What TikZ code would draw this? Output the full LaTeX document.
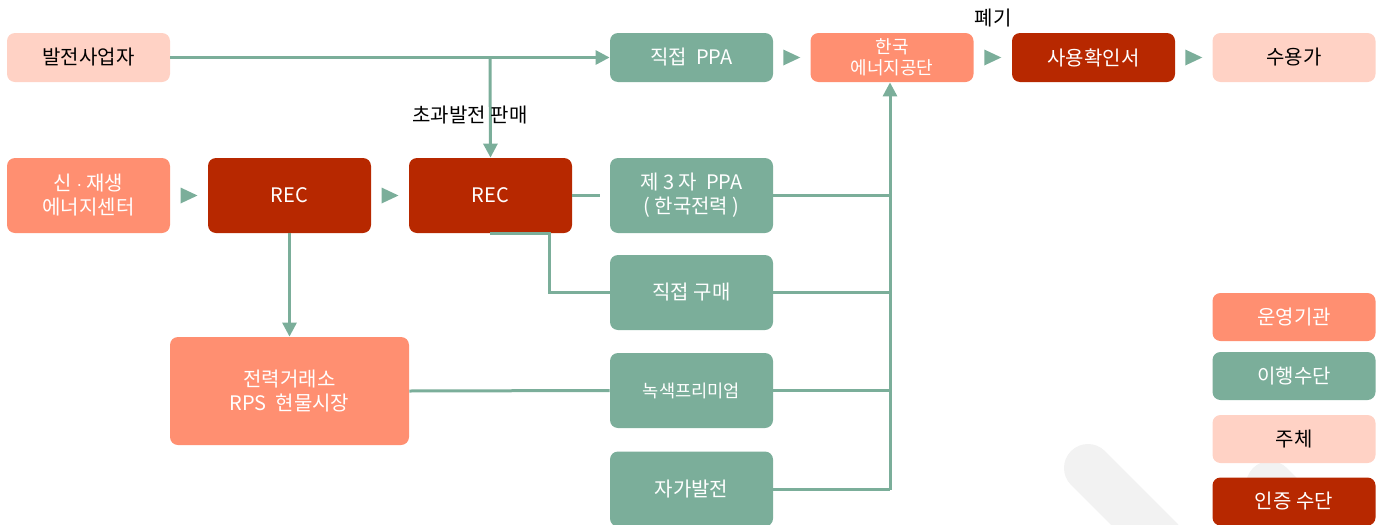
\documentclass[tikz,border=0pt]{standalone}
\usepackage{fontspec}
\setmainfont{Noto Sans CJK KR}
\usetikzlibrary{arrows.meta,calc}
\definecolor{cPink}{HTML}{FFD2C5}
\definecolor{cSalmon}{HTML}{FF8F71}
\definecolor{cGreen}{HTML}{7BAE9A}
\definecolor{cRed}{HTML}{B72800}
\definecolor{cMark}{HTML}{F2F2F2}
\begin{document}
\begin{tikzpicture}[x=0.5pt,y=-0.5pt,
  box/.style={rounded corners=4pt, inner sep=0pt, align=center, text=white,
    font=\fontsize{10}{12}\selectfont, minimum width=81.5pt, minimum height=24.5pt},
  tall/.style={minimum height=37.5pt},
  subj/.style={box, fill=cPink, text=black},
  org/.style={box, fill=cSalmon},
  mean/.style={box, fill=cGreen},
  cert/.style={box, fill=cRed},
  conn/.style={draw=cGreen, line width=1.5pt},
  arr/.style={conn, -{Triangle[length=7pt,width=7pt]}},
  lbl/.style={font=\fontsize{10}{12}\selectfont, text=black, inner sep=0pt}]
\useasboundingbox (0,0) rectangle (1383,525);
\clip (0,0) rectangle (1383,525);
% watermark
\draw[cMark, line width=24pt, line cap=round] (1088,468) -- (1160,540);
\draw[cMark, line width=24pt, line cap=round] (1270,485) -- (1340,555);
% row 1
\node[subj] (gen) at (88.5,57.5) {발전사업자};
\node[mean] (dppa) at (691.5,57.5) {직접\ \ PPA};
\node[org, font=\fontsize{9}{10.5}\selectfont] (kea) at (892,57.5) {한국\\에너지공단};
\node[cert] (crt) at (1093.5,57.5) {사용확인서};
\node[subj] (usr) at (1294,57.5) {수용가};
% row 2
\node[org, tall] (nre) at (88.5,195.5) {신 $\cdot$ 재생\\에너지센터};
\node[cert, tall] (rec1) at (289.5,195.5) {REC};
\node[cert, tall] (rec2) at (490.5,195.5) {REC};
\node[mean, tall] (tppa) at (691.5,195.5) {제 3 자\ \ PPA\\( 한국전력 )};
\node[mean, tall] (dbuy) at (691.5,292.5) {직접 구매};
\node[mean, tall, font=\fontsize{8.8}{10}\selectfont] (grn) at (691.5,390.5) {녹색프리미엄};
\node[mean, tall] (self) at (691.5,489) {자가발전};
\node[org, minimum width=119.5pt, minimum height=54pt] (kpx) at (289.5,391) {전력거래소\\RPS\ \ 현물시장};
% legend
\node[org, minimum height=24pt] (l1) at (1294,317) {운영기관};
\node[mean, minimum height=24pt] (l2) at (1294,376) {이행수단};
\node[subj, minimum height=24pt] (l3) at (1294,439) {주체};
\node[cert, minimum height=24pt] (l4) at (1294,501.5) {인증 수단};
% labels
\node[lbl] (pye) at (993,18) {폐기};
% connectors
\draw[arr] (gen.east) -- (dppa.west);
\coordinate (br) at (490,57.5);
\draw[arr] (br) -- (rec2.north);
\node[lbl] (exc) at (470,115) {초과발전 판매};
\draw[conn] (rec2.east) -- ++(28,0);
\coordinate (bus) at (890,490);
\draw[arr] (bus) -- (bus |- kea.south);
\draw[conn] (tppa.east) -- (bus |- tppa.east);
\draw[conn] (dbuy.east) -- (bus |- dbuy.east);
\draw[conn] (grn.east) -- (bus |- grn.east);
\draw[conn] (self.east) -- (bus |- self.east);
\draw[conn] (490,233) -| (549,292.5) -- (dbuy.west);
\draw[arr] (rec1.south) -- (kpx.north);
\draw[conn] (kpx.east) -- (grn.west);
% standalone triangles
\foreach \a/\b in {dppa/kea, kea/crt, crt/usr, nre/rec1, rec1/rec2}{
  \fill[cGreen] ($(\a.east)!0.5!(\b.west)$) ++(-8.5,-8) -- ++(17,8) -- ++(-17,8) -- cycle;
}
\end{tikzpicture}
\end{document}
